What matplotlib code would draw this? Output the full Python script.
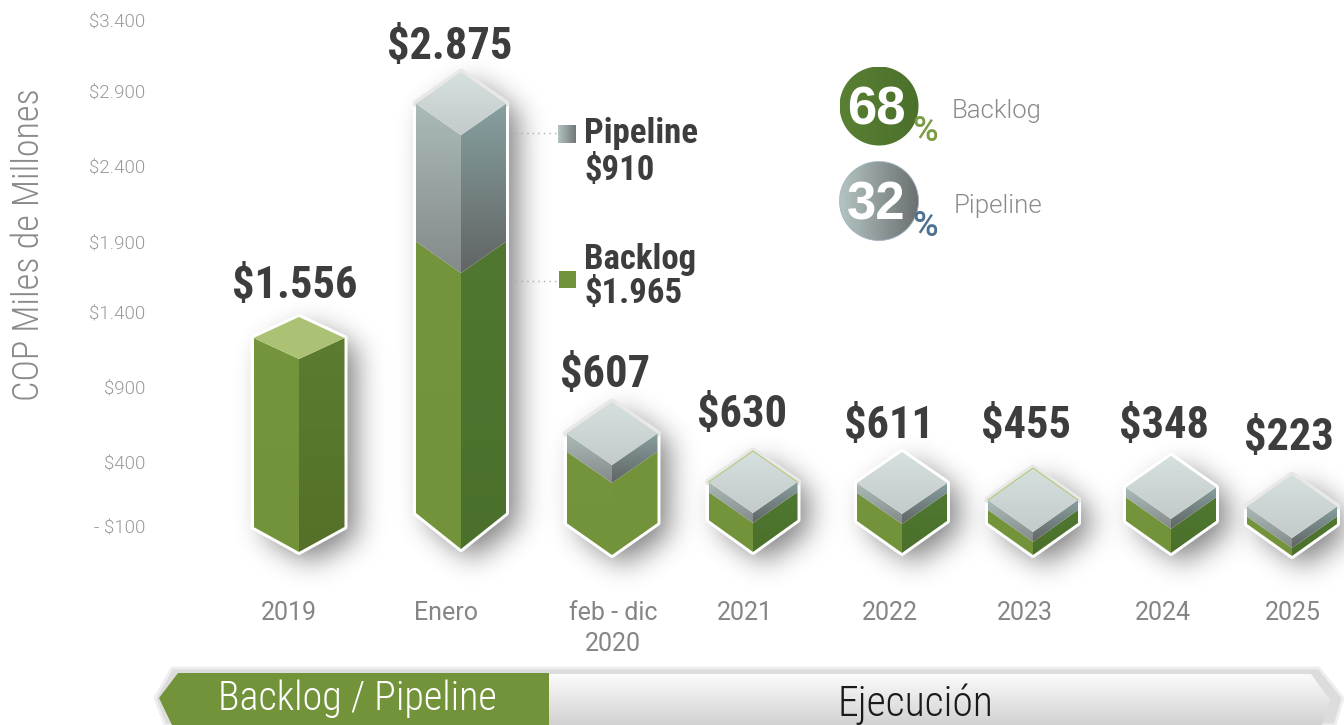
"""Backlog / pipeline isometric bars, COP miles de millones."""
import numpy as np
import matplotlib
matplotlib.use("Agg")
import matplotlib.pyplot as plt
from matplotlib.patches import Polygon, Circle, Rectangle
from matplotlib.path import Path
from matplotlib.colors import LinearSegmentedColormap

categories = ["2019", "Enero", "feb - dic\n2020", "2021", "2022", "2023", "2024", "2025"]
totals = [1556, 2875, 607, 630, 611, 455, 348, 223]
# heights and feet as the bars actually stand against the axis, not the printed totals
backlog_drawn = [1332, 1905, 497, 200, 200, 90, 166, 55]
pipeline_drawn = [0, 952, 124, 69, 69, 69, 69, 69]
bar_feet = [-279, -259, -300, -279, -286, -300, -286, -307]
tick_labels = ["$3.400", "$2.900", "$2.400", "$1.900", "$1.400", "$900", "$400", "- $100"]
tick_at = [3400, 2907, 2391, 1867, 1383, 865, 347, -100]   # the printed ticks are not evenly spaced
share_backlog, share_pipeline = 68, 32
enero_backlog, enero_pipeline = 1965, 910

# layout, in pixels of the 1344x725 picture
bar_x = [299, 461, 612, 753, 902, 1033, 1171, 1292]
half_w = [45.5, 45, 45.5, 44.5, 45, 45, 45, 45]
rise = [21, 31.5, 31.5, 31, 31, 32, 31.5, 31.5]
rise_low = [25, 36, 32, 32, 32, 32, 32, 32]
value_x = [295, 450, 605, 742, 889, 1026, 1164, 1289]
value_y = [286, 47, 375, 415, 426, 426, 426, 438]
cat_x = [289, 446, 613, 745, 890, 1025, 1163, 1293]
halo = [False, True, True, True, False, True, False, True]
green_rim = [False, False, False, True, False, True, False, False]
right_green = [("#5c7c31", "#557029"), ("#507830", "#4a702b"), ("#72933a", "#72933a")] + [("#507830", "#4a702b")] * 5

K = 507 / 3500  # px per COP unit
HEAVY = ["Roboto Condensed", "DejaVu Sans"]
THIN = ["Roboto Condensed", "DejaVu Sans"]
LIGHT = ["Roboto", "DejaVu Sans"]
DARK = "#3d3d3d"


def v(px):
    return (526 - px) / K - 100


def px_lw(p):
    return p * 0.72


def thousands(n):
    return "$" + f"{n:,}".replace(",", ".")


fig = plt.figure(figsize=(13.44, 7.25), dpi=100, facecolor="white")
ax = fig.add_axes([150 / 1344, 0, 1194 / 1344, 1])
top = fig.add_axes([0, 0, 1, 1], zorder=5)
top.set_xlim(0, 1344); top.set_ylim(725, 0); top.axis("off"); top.patch.set_alpha(0)


def gradient(axis, pts, c0, c1, horizontal=False, clip=None, zorder=3):
    pts = np.asarray(pts, float)
    cmap = LinearSegmentedColormap.from_list("g", [c0, c1])
    x0, x1, y0, y1 = pts[:, 0].min(), pts[:, 0].max(), pts[:, 1].min(), pts[:, 1].max()
    g = np.linspace(0, 1, 128)
    img = g[None, :] if horizontal else g[:, None]
    up, low = (y1, y0) if axis is ax else (y0, y1)
    im = axis.imshow(img, cmap=cmap, extent=(x0, x1, low, up), origin="upper", aspect="auto",
                     interpolation="bilinear", zorder=zorder)
    im.set_clip_path(clip if clip is not None else Polygon(pts, closed=True, transform=axis.transData))
    return im


def outline(i):
    x, w, d, dl = bar_x[i], half_w[i], rise[i] / K, rise_low[i] / K
    foot = bar_feet[i]
    crest = foot + backlog_drawn[i] + pipeline_drawn[i]
    return np.array([(x, crest + 2 * d), (x + w, crest + d), (x + w, foot + dl), (x, foot),
                     (x - w, foot + dl), (x - w, crest + d)])


def soft_shadow(dx=12, dy=10, sigma=14, strength=0.5):
    gx, gy = np.meshgrid(np.arange(150, 1344) + 0.5, np.arange(725) + 0.5)
    pts = np.column_stack([gx.ravel(), v(gy.ravel())])
    mask = np.zeros(gx.shape)
    for i in range(len(categories)):
        mask = np.maximum(mask, Path(outline(i) + (dx, -dy / K)).contains_points(pts).reshape(gx.shape))
    t = np.arange(-45, 46)
    kern = np.exp(-t ** 2 / (2 * sigma ** 2)); kern /= kern.sum()
    mask = np.apply_along_axis(np.convolve, 0, mask, kern, mode="same")
    mask = np.apply_along_axis(np.convolve, 1, mask, kern, mode="same")
    rgba = np.zeros(mask.shape + (4,))
    rgba[..., 3] = mask * strength
    ax.imshow(rgba, extent=(150, 1344, v(725), v(0)), origin="upper", aspect="auto", zorder=1)


def bar(i):
    x, w, d, dl = bar_x[i], half_w[i], rise[i] / K, rise_low[i] / K
    foot = bar_feet[i]
    junction = foot + backlog_drawn[i]
    crest = junction + pipeline_drawn[i]
    hexagon = outline(i)
    ax.add_patch(Polygon(hexagon, closed=True, fc="white", ec="white", lw=px_lw(6), joinstyle="round", zorder=2))
    if halo[i]:
        ax.plot(hexagon[[5, 0, 1], 0], hexagon[[5, 0, 1], 1], color="#e8e8e8", lw=px_lw(7),
                solid_joinstyle="round", solid_capstyle="round", zorder=2)

    right_hi, right_lo = right_green[i]
    gradient(ax, [(x - w, junction + d), (x, junction), (x, foot), (x - w, foot + dl)], "#74953c", "#72933a")
    gradient(ax, [(x + w, junction + d), (x, junction), (x, foot), (x + w, foot + dl)], right_hi, right_lo)
    if pipeline_drawn[i] == 0:
        ax.add_patch(Polygon([(x, crest + 2 * d), (x + w, crest + d), (x, crest), (x - w, crest + d)],
                             closed=True, fc="#abc274", ec="none", zorder=3))
        return
    gradient(ax, [(x - w, crest + d), (x, crest), (x, junction), (x - w, junction + d)], "#aabbb8", "#858a8a")
    gradient(ax, [(x + w, crest + d), (x, crest), (x, junction), (x + w, junction + d)], "#87a0a0", "#616564")
    gradient(ax, [(x, crest + 2 * d), (x + w, crest + d), (x, crest), (x - w, crest + d)], "#d5e0df", "#c4cbca")
    if green_rim[i]:
        ax.plot(hexagon[[5, 0, 1], 0], hexagon[[5, 0, 1], 1], color="#b5c97a", lw=0.8, zorder=4)


soft_shadow()
for i in range(len(categories)):
    bar(i)
    top.text(value_x[i], value_y[i], thousands(totals[i]), ha="center", va="center",
             family=HEAVY, weight="bold", fontsize=32, color=DARK)
    top.text(cat_x[i], 601, categories[i], ha="center", va="top", family=LIGHT, fontsize=18,
             color="#858585", linespacing=1.35)

ax.set_xlim(150, 1344)
ax.set_ylim(v(725), v(0))
ax.set_yticks(tick_at, tick_labels)
ax.set_xticks([])
ax.tick_params(axis="y", length=0, pad=3.6, labelsize=13.5, labelcolor="#9a9a9a")
for lab in ax.get_yticklabels():
    lab.set_family(LIGHT); lab.set_fontweight(300)
for s in ax.spines.values():
    s.set_visible(False)
ax.patch.set_alpha(0)
ax.set_ylabel("COP Miles de Millones", family=THIN, fontweight=300, fontsize=26, color="#8a8a8a")
ax.yaxis.set_label_coords((47 - 150) / 1194, (725 - 245) / 725)

# legend beside the Enero bar
gradient(top, [(558, 125), (576, 125), (576, 143), (558, 143)], "#b3c4c2", "#727778", horizontal=True, zorder=6)
top.add_patch(Rectangle((559, 271), 17, 17, fc="#72933a", ec="none", zorder=6))
for y in (133, 281):
    top.plot([510, 556], [y, y], color="#aaaaaa", lw=1, ls=(0, (1, 3)))
for y, s in zip([133, 170, 259, 293], ["Pipeline", f"${enero_pipeline}", "Backlog", thousands(enero_backlog)]):
    top.text(584, y, s, ha="left", va="center", family=HEAVY, weight="bold", fontsize=25, color=DARK)

# share badges
for cy, share, c0, c1, pc, name, nx, edge in [
        (106, share_backlog, "#5a8034", "#4a702b", "#7a9c44", "Backlog", 952, "none"),
        (201, share_pipeline, "#b3c4c2", "#6b6f70", "#4f7191", "Pipeline", 954, "#9fb2c4")]:
    disc = Circle((879, cy), 39.5, transform=top.transData)
    gradient(top, [(839.5, cy - 39.5), (918.5, cy + 39.5)], c0, c1, horizontal=True, clip=disc, zorder=6)
    if edge != "none":
        top.add_patch(Circle((879, cy), 39.5, fc="none", ec=edge, lw=0.6, zorder=6))
    top.text(876, cy + 4, str(share), ha="center", va="center", family=["Liberation Sans", "DejaVu Sans"],
             weight="bold", fontsize=38, color="white", zorder=7)
    top.text(925, cy + 25, "%", ha="center", va="center", family=LIGHT, weight=500, fontsize=25, color=pc, zorder=7)
    top.text(nx, cy + 5, name, ha="left", va="center", family=LIGHT, fontweight=300, fontsize=18.5, color="#8a8a8a", zorder=7)

# phase ribbon along the bottom
outer = [(155, 698), (172, 668), (1319, 668), (1343, 698), (1335, 725), (165, 725)]
top.add_patch(Polygon(outer, closed=True, fc="#dcdcdc", ec="#eeeeee", lw=2, zorder=6))
right_part = [(549, 674), (1311, 674), (1330, 700), (1322, 725), (549, 725)]
gradient(top, right_part, "#fbfbfb", "#d2d2d2", zorder=7)
top.add_patch(Polygon([(159, 698), (178, 673), (549, 673), (549, 725), (172, 725)], closed=True,
                      fc="#72933a", ec="none", zorder=7))
top.text(357, 699, "Backlog / Pipeline", ha="center", va="center", family=THIN, fontweight=300,
         fontsize=29, color="white", zorder=8)
top.text(915, 704, "Ejecución", ha="center", va="center", family=THIN, fontweight=300,
         fontsize=30, color="#1a1a1a", zorder=8)
top.set_xlim(0, 1344); top.set_ylim(725, 0)

fig.savefig("out.png", dpi=100)
